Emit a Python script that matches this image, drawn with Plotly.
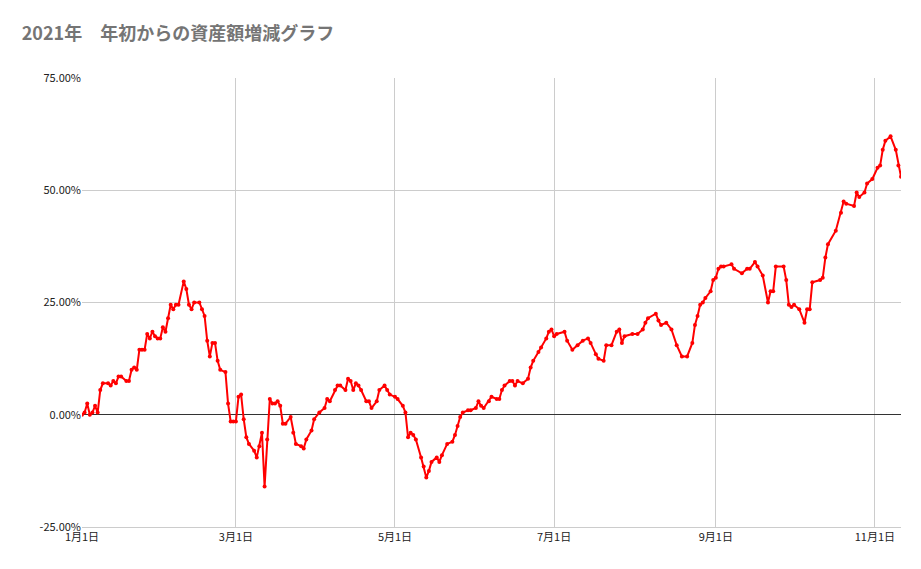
import plotly.graph_objects as go
import pandas as pd

days = [0,1,2,3,4,5,6,7,8,10,11,12,13,14,15,17,18,19,20,21,22,23,24,25,26,27,28,29,30,31,32,33,34,35,36,37,39,40,41,42,43,45,46,47,48,49,50,51,52,53,55,56,57,58,59,60,61,62,63,64,66,67,68,69,70,71,72,73,74,75,76,77,78,80,81,82,84,85,86,88,89,91,93,94,95,97,98,99,101,102,103,104,105,106,107,109,110,111,113,114,116,117,118,120,121,123,124,125,126,127,128,130,131,132,133,134,136,137,138,140,142,143,144,145,146,148,149,151,152,153,154,156,157,159,160,161,162,164,165,166,167,169,171,172,173,175,176,178,179,180,181,182,185,186,188,190,192,194,195,197,198,200,201,203,205,206,207,208,211,213,215,216,217,220,221,222,224,226,228,230,232,234,235,236,237,238,239,241,242,243,244,245,246,249,250,253,255,256,258,259,261,263,264,265,266,269,270,271,272,273,275,277,278,279,280,283,284,285,286,289,291,292,293,296,297,298,300,301,303,305,306,307,308,310,312,313,314]
values = [0,0.5,2.5,0,0.5,2,0.5,5.5,7,7,6.5,7.5,7,8.5,8.5,7.5,7.5,10,10.5,10,14.5,14.5,14.5,18,17,18.5,17.5,17,17,19.5,18.5,21.5,24.5,23.5,24.5,24.5,29.7,28,24.5,23.5,25,25,23.5,22,16.5,13,16,16,12,10,9.5,2.5,-1.5,-1.5,-1.5,4,4.5,-1,-5,-6.5,-8,-9.5,-7,-4,-16,-5.5,3.5,2.5,2.5,3,2,-2,-2,-0.5,-4,-6.5,-7,-7.5,-5.5,-3.5,-1,0.5,1.5,3.5,3,5.5,6.5,6.5,5.5,8,7.5,5.5,7,6.5,5.5,3,3,1.5,3,5.5,6.5,5.5,4.5,4,3.5,2,0.5,-5,-4,-4.5,-5.5,-9.5,-11.5,-14,-12.5,-10.5,-9.5,-10.5,-9,-6.5,-6,-4.5,-2.5,-0.5,0.5,1,1,1.5,3,2,1.5,3,4,3.5,3.5,5.5,6.5,7.5,7.5,6.5,7.5,7,8,10.5,12,14,15,17,18.5,19,17.5,18,18.5,16.5,14.5,15.5,16.5,17,16,13.5,12.5,12,15.5,15.5,18.5,19,16,17.5,18,18,19,20.5,21.5,22.5,21,20,20.5,19,15.5,13,13,16,20,22,24.5,25,26,27.5,30,30.5,32.5,33,33,33.5,32.5,31.5,32.5,32.5,34,33,31,25,27.5,27.5,33,33,30,24.5,24,24.5,23.5,20.5,23.5,23.5,29.5,30,30.5,35,38,41,45,47.5,47,46.5,49.5,48.5,49.5,51.5,52.5,55,55.5,59,61,62,59,55.5,53]

tick_labels = ["1月1日", "3月1日", "5月1日", "7月1日", "9月1日", "11月1日"]
tick_dates = ["2021-01-01", "2021-03-01", "2021-05-01", "2021-07-01", "2021-09-01", "2021-11-01"]
y_ticks = [-25, 0, 25, 50, 75]

dates = pd.Timestamp("2021-01-01") + pd.to_timedelta(days, unit="D")
fig = go.Figure(go.Scatter(x=dates, y=[v / 100 for v in values], mode="lines+markers",
                           line=dict(color="#ff0000", width=2), marker=dict(size=4, color="#ff0000")))
fig.update_layout(
    width=913, height=561, paper_bgcolor="white", plot_bgcolor="white",
    margin=dict(l=74, r=20, t=70, b=42), showlegend=False,
    font=dict(family="Noto Sans CJK JP, Arial", size=11, color="#222"),
    title=dict(text="<b>2021年　年初からの資産額増減グラフ</b>", x=0.015, xanchor="left", y=0.965, yanchor="top",
               font=dict(size=18, color="#757575")),
)
fig.update_xaxes(range=["2021-01-01", "2021-11-11"], tickvals=tick_dates, ticktext=tick_labels,
                 showgrid=True, gridcolor="#cccccc", showline=True, linecolor="#cccccc", ticks="", zeroline=False)
fig.update_yaxes(range=[-0.25, 0.75], tickvals=[t / 100 for t in y_ticks],
                 ticktext=[f"{t:.2f}%" for t in y_ticks], showgrid=True, gridcolor="#cccccc",
                 zeroline=True, zerolinecolor="#333333", zerolinewidth=1, ticks="")
fig.write_html("out.html")
